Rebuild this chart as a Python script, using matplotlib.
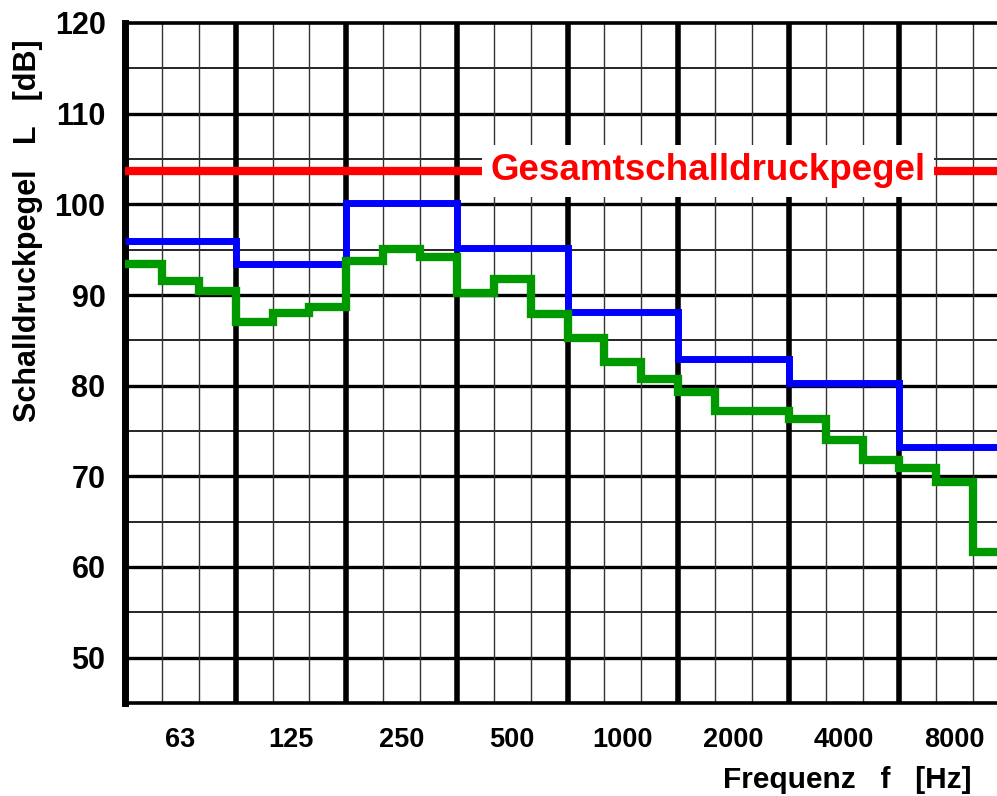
import matplotlib
matplotlib.use("Agg")
import matplotlib.pyplot as plt
import numpy as np

plt.rcParams["font.family"] = ["Liberation Sans", "DejaVu Sans"]
plt.rcParams["font.weight"] = "bold"

# octave band centre frequencies [Hz]
bands = ["63", "125", "250", "500", "1000", "2000", "4000", "8000"]
# octave band levels [dB]
octave_levels = [96.0, 93.4, 100.2, 95.2, 88.1, 82.9, 80.3, 73.2]
# third-octave band levels [dB], three per octave
third_levels = [93.4, 91.5, 90.4,
                87.0, 88.0, 88.7,
                93.8, 95.1, 94.2,
                90.2, 91.8, 87.9,
                85.3, 82.6, 80.7,
                79.3, 77.2, 77.2,
                76.3, 74.0, 71.8,
                70.9, 69.4, 61.7]
# overall sound pressure level [dB]
total_level = 103.7

n_third = len(third_levels)
third_edges = np.arange(n_third + 1)
octave_edges = np.arange(0, n_third + 1, 3)

fig = plt.figure(figsize=(9.97, 7.96), dpi=100)
ax = fig.add_axes([125 / 997, 93 / 796, 885 / 997, 680 / 796])
ax.set_xlim(0, n_third)
ax.set_ylim(45, 120)

# grid: thin lines for 5 dB / third octaves, heavier ones for 10 dB / octaves
for y in range(50, 120, 5):
    lw = 2.4 if y % 10 == 0 else 1.2
    ax.axhline(y, color="black", lw=lw, zorder=1)
for x in third_edges[1:-1]:
    if x % 3 == 0:
        ax.axvline(x, color="black", lw=4, zorder=1)
    else:
        ax.axvline(x, color="#333333", lw=1.0, zorder=1)

ax.spines["right"].set_visible(False)
ax.spines["left"].set_linewidth(5)
ax.spines["bottom"].set_linewidth(2.6)
ax.spines["top"].set_linewidth(2.6)

ax.stairs(octave_levels, octave_edges, color="#0000ff", lw=5, zorder=3,
          baseline=None)
ax.stairs(third_levels, third_edges, color="#009a00", lw=6, zorder=4,
          baseline=None)

ax.axhline(total_level, color="#ff0000", lw=6, zorder=5)
ax.text(15.8, total_level, "Gesamtschalldruckpegel", color="#ff0000",
        fontsize=26.5, fontweight="bold", ha="center", va="center", zorder=6,
        bbox=dict(facecolor="white", edgecolor="none", pad=6))

ax.set_yticks(np.arange(50, 121, 10))
ax.set_yticklabels([str(v) for v in range(50, 121, 10)], fontsize=22,
                   fontweight="bold")
ax.set_xticks(octave_edges[:-1] + 1.5)
ax.set_xticklabels(bands, fontsize=19.5, fontweight="bold")
ax.tick_params(axis="both", length=0)
ax.tick_params(axis="y", pad=14)
ax.tick_params(axis="x", pad=17)

fig.text(971 / 997, 1 - 780 / 796, "Frequenz   f   [Hz]", fontsize=21.5,
         fontweight="bold", ha="right", va="center")
fig.text(28 / 997, 1 - 231 / 796, "Schalldruckpegel   L   [dB]",
         fontsize=22, fontweight="bold", ha="center", va="center",
         rotation=90)

fig.savefig("out.png", dpi=100)
